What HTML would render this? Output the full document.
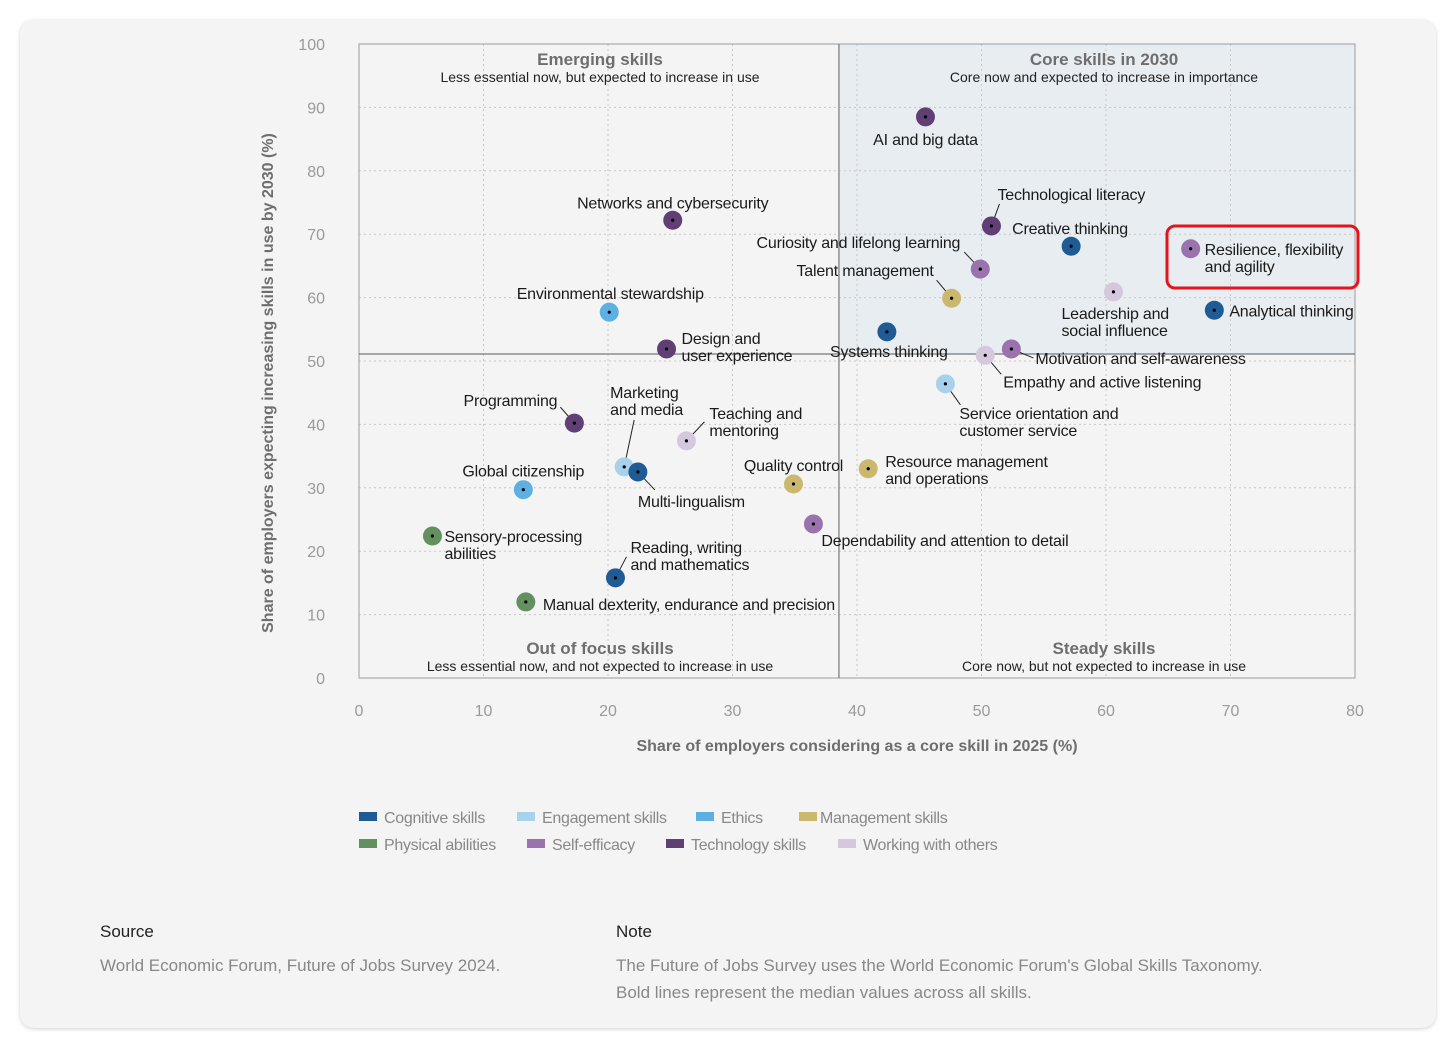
<!DOCTYPE html>
<html><head><meta charset="utf-8"><style>
body{margin:0;background:#fff;font-family:"Liberation Sans",sans-serif;}
#card{position:absolute;left:20px;top:20px;width:1416px;height:1008px;background:#f4f4f4;border-radius:14px;box-shadow:0 1px 4px rgba(0,0,0,.18);}
svg{position:absolute;left:0;top:0}
.ft{position:absolute;font-size:17px;color:#222}
.fs{position:absolute;font-size:17px;color:#888;line-height:27px}
</style></head><body>
<div id="card"></div>
<svg id="chart" width="1456" height="1049"></svg>
<div class="ft" style="left:100px;top:922px">Source</div>
<div class="fs" style="left:100px;top:952px">World Economic Forum, Future of Jobs Survey 2024.</div>
<div class="ft" style="left:616px;top:922px">Note</div>
<div class="fs" style="left:616px;top:952px">The Future of Jobs Survey uses the World Economic Forum's Global Skills Taxonomy.<br>Bold lines represent the median values across all skills.</div>
<script>
const skills=["AI and big data","Technological literacy","Creative thinking","Resilience, flexibility|and agility","Curiosity and lifelong learning","Talent management","Leadership and|social influence","Analytical thinking","Systems thinking","Motivation and self-awareness","Empathy and active listening","Service orientation and|customer service","Resource management|and operations","Quality control","Dependability and attention to detail","Networks and cybersecurity","Environmental stewardship","Design and|user experience","Programming","Marketing|and media","Multi-lingualism","Teaching and|mentoring","Global citizenship","Sensory-processing|abilities","Reading, writing|and mathematics","Manual dexterity, endurance and precision"];
const xVals=[45.5,50.8,57.2,66.8,49.9,47.6,60.6,68.7,42.4,52.4,50.3,47.1,40.9,34.9,36.5,25.2,20.1,24.7,17.3,21.3,22.4,26.3,13.2,5.9,20.6,13.4];
const yVals=[88.5,71.3,68.1,67.7,64.5,59.9,60.9,58.0,54.6,51.9,50.9,46.4,33.0,30.6,24.3,72.2,57.7,51.9,40.2,33.3,32.5,37.4,29.7,22.4,15.8,12.0];
const cats=["tech","tech","cog","self","self","mgmt","work","cog","cog","self","work","eng","mgmt","mgmt","self","tech","eth","tech","tech","eng","cog","work","eth","phys","cog","phys"];
const medianX=38.55, medianY=51.1;
const xTicks=[0,10,20,30,40,50,60,70,80];
const yTicks=[0,10,20,30,40,50,60,70,80,90,100];
const catKeys=["cog","eng","eth","mgmt","phys","self","tech","work"];
const catNames=["Cognitive skills","Engagement skills","Ethics","Management skills","Physical abilities","Self-efficacy","Technology skills","Working with others"];
const catColors={cog:"#1f5b94",eng:"#a8d2ec",eth:"#5eb0e2",mgmt:"#cbb86f",phys:"#62905f",self:"#9a72ae",tech:"#5f3f74",work:"#d6c8dc"};
// label layout: [dx,dy,anchor,leaderDx,leaderDy]
const lay=[[0,28,"middle"],[6,-26,"start",8,-22],[-59,-12,"start"],[14,6,"start"],[-20,-21,"end",-16,-17],[-18,-22,"end",-15,-18],[-52,27,"start"],[15,6,"start"],[2,25,"middle"],[24,15,"start",22,9],[18,32,"start",16,19],[14,35,"start",15,21],[17,-2,"start"],[0,-13,"middle"],[8,22,"start"],[0,-12,"middle"],[1,-13,"middle"],[15,-5,"start"],[-17,-17,"end",-14,-16],[-14,-69,"start",10,-47],[0,35,"start",17,18],[23,-22,"start",18,-19],[0,-13,"middle"],[12,6,"start"],[15,-25,"start",11,-21],[17,8,"start"]];
const X0=359,X1=1355,Y0=678,Y1=44;
const sx=v=>X0+(v-0)/80*(X1-X0), sy=v=>Y0-(v-0)/100*(Y0-Y1);
const svg=document.getElementById('chart');const NS="http://www.w3.org/2000/svg";
function mk(t,a,p){const e=document.createElementNS(NS,t);for(const k in a)e.setAttribute(k,a[k]);(p||svg).appendChild(e);return e;}
let e;
e=mk('rect',{x:sx(medianX),y:Y1,width:X1-sx(medianX),height:sy(medianY)-Y1,fill:"#e8edf1"});


xTicks.forEach(t=>{if(t>0&&t<80){e=mk('line',{x1:sx(t),x2:sx(t),y1:Y1,y2:Y0,stroke:"#c8c8c8","stroke-dasharray":"2,3"});

}
e=mk('text',{x:sx(t),y:716,"text-anchor":"middle","font-size":16,fill:"#9a9a9a"});e.textContent=t;

});
yTicks.forEach(t=>{if(t>0&&t<100){e=mk('line',{x1:X0,x2:X1,y1:sy(t),y2:sy(t),stroke:"#c8c8c8","stroke-dasharray":"2,3"});

}
e=mk('text',{x:325,y:sy(t)+6,"text-anchor":"end","font-size":16,fill:"#9a9a9a"});e.textContent=t;

});
e=mk('rect',{x:X0,y:Y1,width:X1-X0,height:Y0-Y1,fill:"none",stroke:"#aaa","stroke-width":1.2});


e=mk('line',{x1:sx(medianX),x2:sx(medianX),y1:Y1,y2:Y0,stroke:"#777","stroke-width":1.2});


e=mk('line',{x1:X0,x2:X1,y1:sy(medianY),y2:sy(medianY),stroke:"#777","stroke-width":1.2});


const quads=[[600,65,"Emerging skills","Less essential now, but expected to increase in use"],[1104,65,"Core skills in 2030","Core now and expected to increase in importance"],[600,654,"Out of focus skills","Less essential now, and not expected to increase in use"],[1104,654,"Steady skills","Core now, but not expected to increase in use"]];
quads.forEach(q=>{e=mk('text',{x:q[0],y:q[1],"text-anchor":"middle","font-size":17,"font-weight":"bold",fill:"#6e6e6e"});e.textContent=q[2];


e=mk('text',{x:q[0],y:q[1]+17,"text-anchor":"middle","font-size":14,fill:"#222"});e.textContent=q[3];

});
e=mk('text',{x:857,y:751,"text-anchor":"middle","font-size":16,"font-weight":"bold",fill:"#6e6e6e"});e.textContent="Share of employers considering as a core skill in 2025 (%)";


e=mk('text',{x:0,y:0,"text-anchor":"middle","font-size":16,"font-weight":"bold",fill:"#6e6e6e",transform:"translate(273,383) rotate(-90)"});e.textContent="Share of employers expecting increasing skills in use by 2030 (%)";


skills.forEach((s,i)=>{const px=sx(xVals[i]),py=sy(yVals[i]);const L=lay[i];
if(L.length>3){e=mk('line',{x1:px,y1:py,x2:px+L[3],y2:py+L[4],stroke:"#222","stroke-width":1});

}
e=mk('circle',{cx:px,cy:py,r:9.5,fill:catColors[cats[i]]});


mk('circle',{cx:px,cy:py,r:1.6,fill:"#000"});
s.split('|').forEach((ln,j)=>{e=mk('text',{x:px+L[0],y:py+L[1]+j*17,"text-anchor":L[2],"font-size":16,fill:"#1a1a1a","letter-spacing":"-0.2"});e.textContent=ln;

});});
e=mk('rect',{x:1167,y:226,width:191,height:62,rx:8,fill:"none",stroke:"#e3141c","stroke-width":3});


const legX=[359,517,696,799,359,527,666,838],legY=[817,817,817,817,844,844,844,844];
catKeys.forEach((k,i)=>{const x=legX[i],y=legY[i];
e=mk('rect',{x:x,y:y-5,width:18,height:9,fill:catColors[k]});


e=mk('text',{x:x+(i==3?21:25),y:y+6,"font-size":16,fill:"#888","letter-spacing":"-0.3"});e.textContent=catNames[i];

});
</script>
</body></html>
